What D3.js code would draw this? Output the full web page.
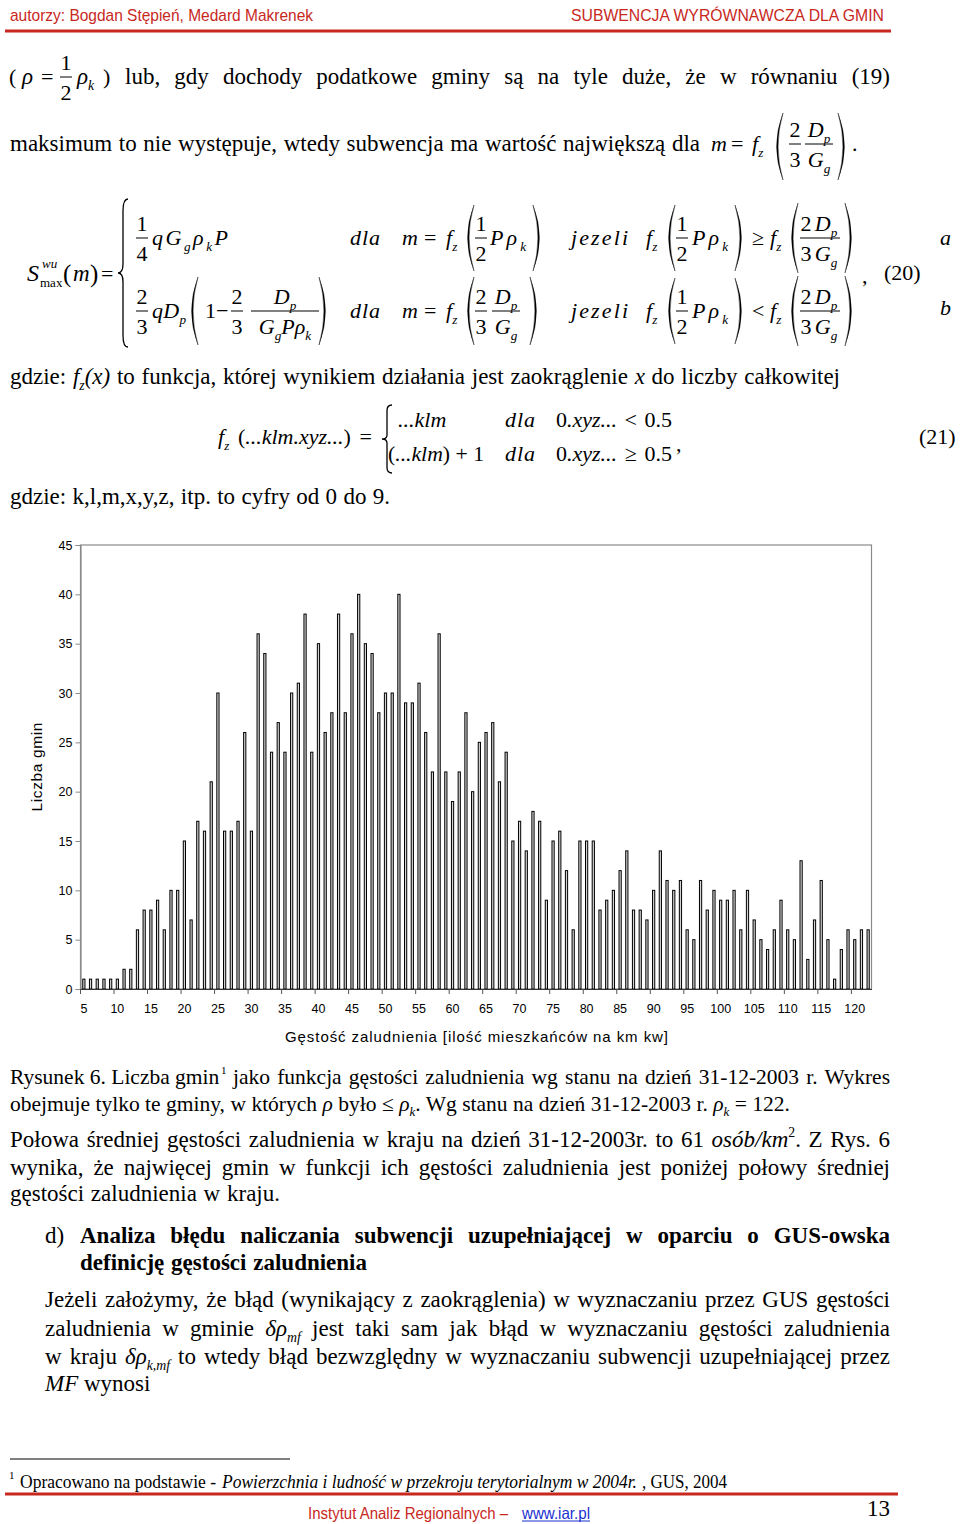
<!DOCTYPE html>
<html><head><meta charset="utf-8">
<script src="https://cdn.jsdelivr.net/npm/d3@7"></script>
<style>html,body{margin:0;padding:0;background:#fff;}svg{display:block;}</style>
</head><body>
<script>
// ---- chart data ----
const categories = d3.range(5, 123); // density 5 .. 122 (rho_k = 122)
const counts = [
  1,1,1,1,1,1,2,2,6,8, 8,9,6,10,10,15,7,17,16,21,
  30,16,16,17,26,16,36,34,24,27, 24,30,31,38,24,35,26,28,38,28,
  36,40,35,34,28,30,30,40,29,29, 31,26,22,36,22,19,22,28,20,25,
  26,27,21,24,15,17,14,18,17,9, 15,16,12,6,15,15,15,8,9,10,
  12,14,8,8,7,10,14,11,10,11, 6,5,11,8,10,9,9,10,6,10,
  7,5,4,6,9,6,5,13,3,7, 11,5,1,4,6,5,6,6
];
const yTickValues = [0,5,10,15,20,25,30,35,40,45];
const xTickLabels = [5,10,15,20,25,30,35,40,45,50,55,60,65,70,75,80,85,90,95,100,105,110,115,120];
const yTitle = "Liczba gmin";
const xTitle = "Gęstość zaludnienia [ilość mieszkańców na km kw]";

const SERIF = "'Liberation Serif','Times New Roman',serif";
const SANS = "'Liberation Sans',Arial,sans-serif";
const NARROW = "'Liberation Sans Narrow','Liberation Sans',Arial,sans-serif";
const RED = "#c8281e";
const BODY = 23;

const svg = d3.select("body").append("svg").attr("width",960).attr("height",1524);
svg.append("rect").attr("width",960).attr("height",1524).attr("fill","#fff");

// ---- helpers ----
function fit(sel,target){
  const node = sel.node();
  const w = node.getComputedTextLength();
  const n = (node.textContent.match(/ /g)||[]).length;
  if(w < target && n>0){ sel.attr("word-spacing",(target-w)/n); }
  else if(Math.abs(w-target)>0.5){ sel.attr("textLength",target).attr("lengthAdjust","spacingAndGlyphs"); }
  return sel;
}
function txt(x,y,s,o={}){
  const t = svg.append("text").attr("x",x).attr("y",y).text(s)
    .attr("font-family",o.family||SERIF).attr("font-size",o.size||BODY)
    .attr("fill",o.fill||"#000");
  if(o.style) t.attr("font-style",o.style);
  if(o.weight) t.attr("font-weight",o.weight);
  if(o.anchor) t.attr("text-anchor",o.anchor);
  if(o.len) fit(t,o.len);
  return t;
}
// parts: [string, kind]  kinds: n normal, i italic, si sub italic, sn sub normal, pi sup italic, pn sup normal
function mtext(x,y,parts,o={}){
  const size = o.size||22;
  const t = svg.append("text").attr("x",x).attr("y",y)
    .attr("font-family",SERIF).attr("font-size",size).attr("fill","#000");
  if(o.anchor) t.attr("text-anchor",o.anchor);
  let cur = 0;
  parts.forEach(p=>{
    const k = p[1]||"n";
    let shift = 0, sz = size, it = false;
    if(k==="i") it = true;
    if(k==="si"){ shift = size*0.25; sz = size*0.6; it = true; }
    if(k==="sn"){ shift = size*0.25; sz = size*0.6; }
    if(k==="pi"){ shift = -size*0.45; sz = size*0.6; it = true; }
    if(k==="pn"){ shift = -size*0.45; sz = size*0.6; }
    const ts = t.append("tspan").text(p[0]).attr("font-size",sz).attr("dy",shift-cur);
    if(it) ts.attr("font-style","italic");
    cur = shift;
  });
  if(o.len) fit(t,o.len);
  if(o.stretch) t.attr("textLength",o.stretch).attr("lengthAdjust","spacing");
  return t;
}
function frac(xc,yb,num,den,w,size){
  size = size||22;
  mtext(xc,yb-7,num,{anchor:"middle",size});
  mtext(xc,yb+23,den,{anchor:"middle",size});
  svg.append("line").attr("x1",xc-w/2).attr("x2",xc+w/2).attr("y1",yb).attr("y2",yb)
    .attr("stroke","#000").attr("stroke-width",1);
}
function paren(x,y0,y1,left){
  const w = 8, m=(y0+y1)/2;
  let d;
  if(left){
    d = `M${x+w},${y0} Q${x-w*0.6},${m} ${x+w},${y1} Q${x-w*0.6+3},${m} ${x+w},${y0} Z`;
  } else {
    d = `M${x},${y0} Q${x+w*1.6},${m} ${x},${y1} Q${x+w*1.6-3},${m} ${x},${y0} Z`;
  }
  svg.append("path").attr("d",d).attr("fill","#000").attr("stroke","#000").attr("stroke-width",0.4);
}
function brace(x,y0,y1){
  const w=10, m=(y0+y1)/2, h=y1-y0, xm=x+w/2;
  const d = `M${x+w},${y0} Q${xm},${y0} ${xm},${y0+h*0.08} L${xm},${m-h*0.06} Q${xm},${m} ${x},${m} `+
            `Q${xm},${m} ${xm},${m+h*0.06} L${xm},${y1-h*0.08} Q${xm},${y1} ${x+w},${y1}`;
  svg.append("path").attr("d",d).attr("fill","none").attr("stroke","#000").attr("stroke-width",1.3);
}

// ---- header ----
txt(10,21,"autorzy: Bogdan Stępień, Medard Makrenek",{family:NARROW,size:17,fill:RED,len:303});
txt(571,21,"SUBWENCJA WYRÓWNAWCZA DLA GMIN",{family:NARROW,size:17,fill:RED,len:313});
svg.append("rect").attr("x",5).attr("y",29.5).attr("width",886).attr("height",3).attr("fill",RED);

// ---- line 1 ----
txt(9,84,"(",{size:22});
mtext(22,84,[["ρ","i"]],{size:23});
txt(41,84,"=",{size:22});
frac(66,77,[["1"]],[["2"]],12);
mtext(77,84,[["ρ","i"],["k","si"]],{size:23});
txt(103,84,")",{size:22});
txt(125,84,"lub, gdy dochody podatkowe gminy są na tyle duże, że w równaniu (19)",{len:765});

// ---- line 2 ----
txt(10,151,"maksimum to nie występuje, wtedy subwencja ma wartość największą dla",{len:690});
mtext(711,151,[["m","i"]]);
txt(731,151,"=",{size:22});
mtext(752,151,[["f","i"],["z","si"]]);
paren(775,113,180,true);
frac(795,144,[["2"]],[["3"]],12);
frac(819,144,[["D","i"],["p","si"]],[["G","i"],["g","si"]],28);
paren(838,113,180,false);
txt(852,151,".",{size:22});

// ---- equation 20 ----
mtext(27,281,[["S","i"]],{size:24});
mtext(42,268,[["wu","i"]],{size:13});
mtext(40,287,[["max"]],{size:13});
txt(63,282,"(",{size:25}); mtext(73,281,[["m","i"]],{size:23}); txt(90,282,")",{size:25});
txt(101,281,"=",{size:22});
brace(118,199,347);
// row a
frac(142,238,[["1"]],[["4"]],12);
mtext(152,245,[["q","i"],["G","i"],["g","si"],["ρ","i"],["k","si"],["P","i"]],{stretch:76});
mtext(350,245,[["dla","i"]],{stretch:30});
mtext(402,245,[["m","i"]]); txt(424,245,"=",{size:22}); mtext(446,245,[["f","i"],["z","si"]]);
paren(466,205,271,true); frac(481,238,[["1"]],[["2"]],12); mtext(490,245,[["P","i"],["ρ","i"],["k","si"]],{stretch:36}); paren(533,205,271,false);
mtext(571,245,[["jezeli","i"]],{stretch:57});
mtext(646,245,[["f","i"],["z","si"]]);
paren(667,205,271,true); frac(682,238,[["1"]],[["2"]],12); mtext(692,245,[["P","i"],["ρ","i"],["k","si"]],{stretch:36}); paren(735,205,271,false);
txt(752,245,"≥",{size:22});
mtext(770,245,[["f","i"],["z","si"]]);
paren(790,203,273,true); frac(806,238,[["2"]],[["3"]],12); frac(826,238,[["D","i"],["p","si"]],[["G","i"],["g","si"]],28); paren(845,203,273,false);
// row b
frac(142,311,[["2"]],[["3"]],12);
mtext(152,318,[["q","i"],["D","i"],["p","si"]],{stretch:34});
paren(190,277,345,true);
txt(205,318,"1",{size:22}); txt(216,318,"−",{size:22});
frac(237,311,[["2"]],[["3"]],12);
frac(285,311,[["D","i"],["p","si"]],[["G","i"],["g","si"],["P","i"],["ρ","i"],["k","si"]],68);
paren(319,277,345,false);
mtext(350,318,[["dla","i"]],{stretch:30});
mtext(402,318,[["m","i"]]); txt(424,318,"=",{size:22}); mtext(446,318,[["f","i"],["z","si"]]);
paren(466,277,345,true); frac(481,311,[["2"]],[["3"]],12); frac(506,311,[["D","i"],["p","si"]],[["G","i"],["g","si"]],28); paren(530,277,345,false);
mtext(571,318,[["jezeli","i"]],{stretch:57});
mtext(646,318,[["f","i"],["z","si"]]);
paren(667,278,344,true); frac(682,311,[["1"]],[["2"]],12); mtext(692,318,[["P","i"],["ρ","i"],["k","si"]],{stretch:36}); paren(735,278,344,false);
txt(752,318,"<",{size:22});
mtext(770,318,[["f","i"],["z","si"]]);
paren(790,276,346,true); frac(806,311,[["2"]],[["3"]],12); frac(826,311,[["D","i"],["p","si"]],[["G","i"],["g","si"]],28); paren(845,276,346,false);
txt(862,283,",",{size:22});
txt(884,280,"(20)",{size:22});
mtext(940,245,[["a","i"]]);
mtext(940,315,[["b","i"]]);

// ---- gdzie line ----
mtext(10,384,[["gdzie: "],["f","i"],["z","si"],["(x)","i"],[" to funkcja, której wynikiem działania jest zaokrąglenie "],["x","i"],[" do liczby całkowitej"]],{size:BODY,len:830});

// ---- equation 21 ----
mtext(218,444,[["f","i"],["z","si"],[" "],["(","n"],["...klm.xyz...","i"],[")","n"],[" = "]],{size:22,len:157});
brace(382,405,473);
mtext(398,427,[["...klm","i"]]);
mtext(505,427,[["dla","i"]],{stretch:30});
mtext(556,427,[["0"],[".xyz...","i"],[" < 0.5"]],{len:116});
mtext(388,461,[["(","n"],["...klm","i"],[")","n"],[" + 1"]],{len:96});
mtext(505,461,[["dla","i"]],{stretch:30});
mtext(556,461,[["0"],[".xyz...","i"],[" ≥ 0.5"]],{len:116});
txt(676,451,",",{size:22});
txt(919,444,"(21)",{size:22});

txt(10,504,"gdzie: k,l,m,x,y,z, itp. to cyfry od 0 do 9.",{len:380});

// ---- chart ----
const L=80.5, R=871.5, T=545, B=989;
const x = d3.scaleBand().domain(categories).range([L,R]).paddingInner(0.55).paddingOuter(0.275);
const y = d3.scaleLinear().domain([0,45]).range([B,T]);
const chart = svg.append("g");
chart.append("rect").attr("x",L).attr("y",T).attr("width",R-L).attr("height",B-T)
  .attr("fill","none").attr("stroke","#8a8a8a").attr("stroke-width",1.2);
chart.selectAll("rect.bar").data(counts).enter().append("rect").attr("class","bar")
  .attr("x",(d,i)=>x(categories[i])+0.4)
  .attr("y",d=>y(d))
  .attr("width",x.bandwidth()-0.8)
  .attr("height",d=>B-y(d))
  .attr("fill","#d4d4d4").attr("stroke","#000").attr("stroke-width",1);
// y axis
const yAxis = d3.axisLeft(y).tickValues(yTickValues).tickSize(5).tickPadding(3);
const gy = chart.append("g").attr("transform",`translate(${L},0)`).call(yAxis);
gy.select(".domain").attr("stroke","#8a8a8a").attr("stroke-width",1.2);
gy.selectAll(".tick line").attr("stroke","#8a8a8a");
gy.selectAll("text").attr("font-family",SANS).attr("font-size",12.5).attr("fill","#000");
// x axis labels
const xAxis = d3.axisBottom(x).tickValues(xTickLabels).tickSize(0).tickPadding(15);
const gx = chart.append("g").attr("transform",`translate(0,${B})`).call(xAxis);
gx.select(".domain").attr("stroke","#333").attr("stroke-width",1.2);
gx.selectAll("text").attr("font-family",SANS).attr("font-size",12.5).attr("fill","#000");
// x tick marks at category boundaries
const gap = x.step()-x.bandwidth();
chart.selectAll("line.xt").data(xTickLabels).enter().append("line").attr("class","xt")
  .attr("x1",d=>x(d)-gap/2).attr("x2",d=>x(d)-gap/2).attr("y1",B).attr("y2",B+5)
  .attr("stroke","#555").attr("stroke-width",1);
chart.append("text").attr("x",(L+R)/2+0.5).attr("y",1042).attr("text-anchor","middle")
  .attr("font-family",SANS).attr("font-size",15).attr("textLength",383).attr("lengthAdjust","spacing").text(xTitle);
chart.append("text").attr("transform","translate(42,767) rotate(-90)").attr("text-anchor","middle")
  .attr("font-family",SANS).attr("font-size",15.5).attr("textLength",89).attr("lengthAdjust","spacing").text(yTitle);

// ---- caption ----
const CAP = 21.5;
txt(10,1084,"Rysunek 6. Liczba gmin",{size:CAP,len:209});
txt(221,1074,"1",{size:11});
txt(233,1084,"jako funkcja gęstości zaludnienia wg stanu na dzień 31-12-2003 r. Wykres",{size:CAP,len:657});
mtext(10,1111,[["obejmuje tylko te gminy, w których "],["ρ","i"],[" było ≤ "],["ρ","i"],["k","si"],[". Wg stanu na dzień 31-12-2003 r. "],["ρ","i"],["k","si"],[" = 122."]],{size:CAP,len:780});

// ---- paragraph ----
mtext(10,1147,[["Połowa średniej gęstości zaludnienia w kraju na dzień 31-12-2003r. to 61 "],["osób/km","i"],["2","pn"],[". Z Rys. 6"]],{size:BODY,len:880});
txt(10,1175,"wynika, że najwięcej gmin w funkcji ich gęstości zaludnienia jest poniżej połowy średniej",{len:880});
txt(10,1201,"gęstości zaludnienia w kraju.",{len:270});

txt(45,1243,"d)",{size:BODY});
txt(80,1243,"Analiza błędu naliczania subwencji uzupełniającej w oparciu o GUS-owska",{weight:"bold",len:810});
txt(80,1270,"definicję gęstości zaludnienia",{weight:"bold",len:287});

txt(45,1307,"Jeżeli założymy, że błąd (wynikający z zaokrąglenia) w wyznaczaniu przez GUS gęstości",{len:845});
mtext(45,1336,[["zaludnienia w gminie "],["δρ","i"],["mf","si"],[" jest taki sam jak błąd w wyznaczaniu gęstości zaludnienia"]],{size:BODY,len:845});
mtext(45,1364,[["w kraju "],["δρ","i"],["k,mf","si"],[" to wtedy błąd bezwzględny w wyznaczaniu subwencji uzupełniającej przez"]],{size:BODY,len:845});
mtext(45,1391,[["MF","i"],[" wynosi"]],{size:BODY,len:105});

// ---- footnote / footer ----
svg.append("line").attr("x1",10).attr("x2",290).attr("y1",1459).attr("y2",1459).attr("stroke","#000").attr("stroke-width",1);
txt(9,1479,"1",{size:11});
txt(20,1488,"Opracowano na podstawie -",{size:18,len:196});
txt(222,1488,"Powierzchnia i ludność w przekroju terytorialnym w 2004r.",{size:18,style:"italic",len:415});
txt(642,1488,", GUS, 2004",{size:18,len:85});
svg.append("rect").attr("x",5).attr("y",1492.5).attr("width",893).attr("height",3).attr("fill",RED);
txt(308,1519,"Instytut Analiz Regionalnych –",{family:NARROW,size:16.5,fill:RED,len:200});
txt(522,1519,"www.iar.pl",{family:NARROW,size:16.5,fill:"#1a2fd0",len:68});
svg.append("line").attr("x1",522).attr("x2",590).attr("y1",1521).attr("y2",1521).attr("stroke","#1a2fd0").attr("stroke-width",1);
txt(867,1516,"13",{size:23});
</script>
</body></html>
